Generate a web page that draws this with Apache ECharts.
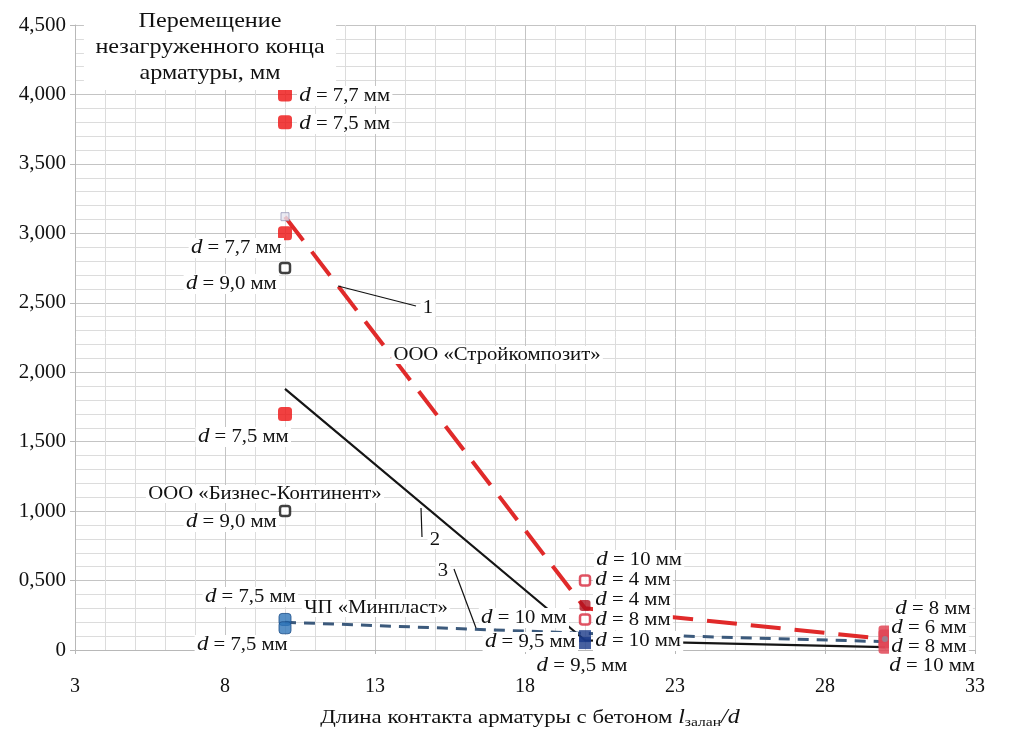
<!DOCTYPE html>
<html>
<head>
<meta charset="utf-8">
<script src="https://cdn.jsdelivr.net/npm/echarts@6/dist/echarts.min.js"></script>
<style>
    html, body { margin: 0; padding: 0; background: #fff; }
    #chart { width: 1024px; height: 732px; }
</style>
</head>
<body>
<div id="chart"></div>
<script>
// Data
const lineX = [10, 20, 30];
const stroykompozitLine = [3.12, 0.30, 0.08];
const biznesLine = [1.88, 0.07, 0.02];
const minplastLine = [0.20, 0.12, 0.06];

const redFilled10 = [[10, 4.0], [10, 3.8], [10, 3.0], [10, 1.7]];
const pale10 = [[10, 3.12]];
const blackHollow10 = [[10, 2.75], [10, 1.0]];
const blue10 = [[10, 0.22], [10, 0.16]];
const redHollow20 = [[20, 0.5], [20, 0.22]];
const darkRed20 = [[20, 0.32]];
const navy20 = [[20, 0.10], [20, 0.05]];
const red30 = [[30, 0.13], [30, 0.10], [30, 0.06], [30, 0.02]];
const gray30 = [[30, 0.08]];

// Annotation texts (pixel anchors)
const notes = [
    ['{i|d} = 7,7 мм', 297, 96, 'left'],
    ['{i|d} = 7,5 мм', 297, 124, 'left'],
    ['{i|d} = 7,7 мм', 284, 248, 'right'],
    ['{i|d} = 9,0 мм', 279, 284, 'right'],
    ['ООО «Стройкомпозит»', 497, 355, 'center'],
    ['{i|d} = 7,5 мм', 291, 437, 'right'],
    ['ООО «Бизнес-Континент»', 265, 494, 'center'],
    ['{i|d} = 9,0 мм', 279, 522, 'right'],
    ['{i|d} = 7,5 мм', 298, 597, 'right'],
    ['ЧП «Минпласт»', 376, 608, 'center'],
    ['{i|d} = 7,5 мм', 290, 645, 'right'],
    ['{i|d} = 10 мм', 569, 618, 'right'],
    ['{i|d} = 9,5 мм', 578, 642, 'right'],
    ['{i|d} = 9,5 мм', 582, 666, 'center'],
    ['{i|d} = 10 мм', 594, 560, 'left'],
    ['{i|d} = 4 мм', 593, 580, 'left'],
    ['{i|d} = 4 мм', 593, 600, 'left'],
    ['{i|d} = 8 мм', 593, 620, 'left'],
    ['{i|d} = 10 мм', 593, 641, 'left'],
    ['{i|d} = 8 мм', 893, 609, 'left'],
    ['{i|d} = 6 мм', 889, 628, 'left'],
    ['{i|d} = 8 мм', 889, 647, 'left'],
    ['{i|d} = 10 мм', 887, 666, 'left'],
    ['1', 428, 308, 'center'],
    ['2', 435, 540, 'center'],
    ['3', 443, 571, 'center']
];

const leaders = [
    [338, 286, 416, 306],
    [421, 508, 422, 537],
    [454, 569, 476, 628]
];

const serif = 'Liberation Serif, DejaVu Serif, serif';
const stretch = 1.15;

const chart = echarts.init(document.getElementById('chart'));

const toPairs = (ys) => lineX.map((x, i) => [x, ys[i]]);

const graphics = [];
// Y axis title box
graphics.push({
    type: 'text',
    z: 100,
    x: 210,
    y: 47,
    scaleX: stretch,
    style: {
        x: 0,
        y: 0,
        text: 'Перемещение\nнезагруженного конца\nарматуры, мм',
        font: '21px ' + serif,
        fill: '#111',
        textAlign: 'center',
        textVerticalAlign: 'middle',
        lineHeight: 26,
        backgroundColor: '#fff',
        padding: [4, 10, 4, 10]
    }
});

notes.forEach(([text, x, y, align]) => {
    graphics.push({
        type: 'text',
        z: 100,
        x: x,
        y: y,
        scaleX: stretch,
        style: {
            x: 0,
            y: 0,
            text: text,
            font: '18px ' + serif,
            fill: '#111',
            textAlign: align,
            textVerticalAlign: 'middle',
            backgroundColor: '#fff',
            padding: [0, 2, 0, 2],
            rich: {
                i: { fontStyle: 'italic', fontFamily: serif, fontSize: 20, fill: '#111' }
            }
        }
    });
});

leaders.forEach(([x1, y1, x2, y2]) => {
    graphics.push({
        type: 'line',
        z: 101,
        shape: { x1, y1, x2, y2 },
        style: { stroke: '#111', lineWidth: 1.2 }
    });
});

// X axis title
graphics.push({
    type: 'text',
    z: 100,
    x: 530,
    y: 718,
    scaleX: 1.2,
    style: {
        x: 0,
        y: 0,
        text: 'Длина контакта арматуры с бетоном {i|l}{sub|залан}{i|/d}',
        font: '19px ' + serif,
        fill: '#111',
        textAlign: 'center',
        textVerticalAlign: 'middle',
        rich: {
            i: { fontStyle: 'italic', fontFamily: serif, fontSize: 20, fill: '#111' },
            sub: { fontFamily: serif, fontSize: 13, fill: '#111', padding: [10, 0, 0, 0] }
        }
    }
});

const options = {
    backgroundColor: '#fff',
    animation: false,
    grid: {
        left: 75,
        right: 49,
        top: 25,
        bottom: 82
    },
    xAxis: {
        type: 'value',
        min: 3,
        max: 33,
        interval: 5,
        axisLine: { show: true, onZero: false, lineStyle: { color: '#b8b8b8' } },
        axisTick: { show: true, length: 4, lineStyle: { color: '#b8b8b8' } },
        axisLabel: { color: '#111', fontFamily: serif, fontSize: 20, margin: 27 },
        splitLine: { show: true, lineStyle: { color: '#c4c4c4', width: 1 } },
        minorTick: { show: false, splitNumber: 5 },
        minorSplitLine: { show: true, lineStyle: { color: '#dcdcdc', width: 1 } }
    },
    yAxis: {
        type: 'value',
        min: 0,
        max: 4.5,
        interval: 0.5,
        axisLine: { show: true, lineStyle: { color: '#b8b8b8' } },
        axisTick: { show: true, length: 5, lineStyle: { color: '#b8b8b8' } },
        axisLabel: {
            color: '#111',
            fontFamily: serif,
            fontSize: 21,
            margin: 9,
            formatter: (v) => v === 0 ? '0' : v.toFixed(3).replace('.', ',')
        },
        splitLine: { show: true, lineStyle: { color: '#c4c4c4', width: 1 } },
        minorTick: { show: false, splitNumber: 5 },
        minorSplitLine: { show: true, lineStyle: { color: '#dcdcdc', width: 1 } }
    },
    graphic: graphics,
    series: [
        {
            name: 'ООО «Стройкомпозит»',
            type: 'line',
            data: toPairs(stroykompozitLine),
            showSymbol: false,
            z: 5,
            lineStyle: { color: '#e02a2a', width: 4, type: [30, 14] }
        },
        {
            name: 'ООО «Бизнес-Континент»',
            type: 'line',
            data: toPairs(biznesLine),
            showSymbol: false,
            z: 4,
            lineStyle: { color: '#151515', width: 2.2 }
        },
        {
            name: 'ЧП «Минпласт»',
            type: 'line',
            data: toPairs(minplastLine),
            showSymbol: false,
            z: 4,
            lineStyle: { color: '#3c5a7c', width: 3, type: [11, 8] }
        },
        {
            type: 'scatter',
            data: redFilled10,
            symbol: 'roundRect',
            symbolSize: 14,
            z: 6,
            itemStyle: { color: '#ee1010' }
        },
        {
            type: 'scatter',
            data: pale10,
            symbol: 'rect',
            symbolSize: 8,
            z: 6,
            itemStyle: { color: '#e6e6f0', borderColor: '#9a9ab8', borderWidth: 1 }
        },
        {
            type: 'scatter',
            data: blackHollow10,
            symbol: 'roundRect',
            symbolSize: 10,
            z: 6,
            itemStyle: { color: '#fff', borderColor: '#111', borderWidth: 2.5 }
        },
        {
            type: 'scatter',
            data: blue10,
            symbol: 'roundRect',
            symbolSize: 12,
            z: 6,
            itemStyle: { color: '#2e74b8', borderColor: '#1d4f88', borderWidth: 1 }
        },
        {
            type: 'scatter',
            data: redHollow20,
            symbol: 'roundRect',
            symbolSize: 10,
            z: 6,
            itemStyle: { color: '#fff', borderColor: '#d8283c', borderWidth: 2.5 }
        },
        {
            type: 'scatter',
            data: darkRed20,
            symbol: 'roundRect',
            symbolSize: 11,
            z: 6,
            itemStyle: { color: '#b0101e' }
        },
        {
            type: 'scatter',
            data: navy20,
            symbol: 'rect',
            symbolSize: 12,
            z: 6,
            itemStyle: { color: '#1a3a88' }
        },
        {
            type: 'scatter',
            data: red30,
            symbol: 'roundRect',
            symbolSize: 13,
            z: 6,
            itemStyle: { color: '#e04555', opacity: 0.85 }
        },
        {
            type: 'scatter',
            data: gray30,
            symbol: 'circle',
            symbolSize: 6,
            z: 7,
            itemStyle: { color: '#8c8c9c' }
        }
    ]
};

chart.setOption(options);
</script>
</body>
</html>
